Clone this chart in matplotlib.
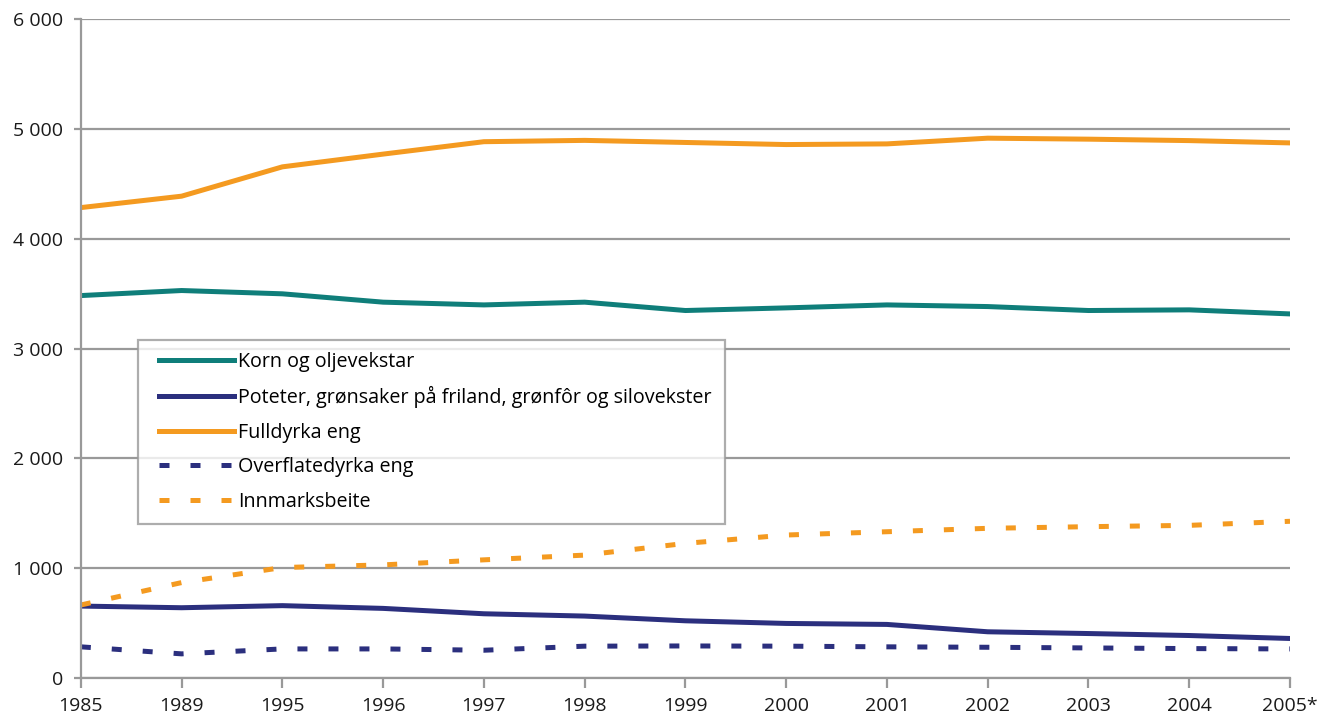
import matplotlib.pyplot as plt
from matplotlib.ticker import FuncFormatter
from matplotlib.legend_handler import HandlerLine2D
from matplotlib.lines import Line2D

# data (1000 dekar)
years = ['1985', '1989', '1995', '1996', '1997', '1998', '1999',
         '2000', '2001', '2002', '2003', '2004', '2005*']
korn = [3482, 3528, 3498, 3422, 3397, 3422, 3346, 3370, 3397, 3382, 3346, 3352, 3315]
poteter = [655, 640, 659, 634, 585, 564, 521, 497, 488, 421, 405, 387, 360]
fulldyrka = [4283, 4387, 4654, 4770, 4883, 4895, 4876, 4857, 4863, 4915, 4906, 4893, 4872]
overflate = [284, 220, 265, 265, 253, 290, 292, 290, 284, 280, 274, 268, 265]
innmark = [665, 869, 1006, 1030, 1076, 1119, 1226, 1302, 1332, 1363, 1378, 1390, 1427]

labels = ['Korn og oljevekstar',
          'Poteter, grønsaker på friland, grønfôr og silovekster',
          'Fulldyrka eng',
          'Overflatedyrka eng',
          'Innmarksbeite']

teal = '#0f7e7a'
navy = '#2b2f7e'
orange = '#f49a20'
grey = '#999999'

plt.rcParams['font.family'] = ['Open Sans', 'DejaVu Sans']

fig = plt.figure(figsize=(13.25, 7.2), dpi=100)
ax = fig.add_axes([0.061, 0.0583, 0.9126, 0.9153])

x = range(len(years))
lw = 3.6
dash = (2.0, 4.2)
ax.plot(x, korn, color=teal, lw=lw, label=labels[0], solid_joinstyle='round')
ax.plot(x, poteter, color=navy, lw=lw, label=labels[1], solid_joinstyle='round')
ax.plot(x, fulldyrka, color=orange, lw=lw, label=labels[2], solid_joinstyle='round')
ax.plot(x, overflate, color=navy, lw=lw, ls=(0, dash), label=labels[3], dash_capstyle='butt')
ax.plot(x, innmark, color=orange, lw=lw, ls=(0, dash), label=labels[4], dash_capstyle='butt')

ax.set_xlim(0, len(years) - 1)
ax.set_ylim(0, 6000)
ax.set_xticks(list(x))
ax.set_xticklabels(years)
ax.set_yticks(range(0, 6001, 1000))
ax.yaxis.set_major_formatter(FuncFormatter(lambda v, p: f'{int(v):,}'.replace(',', ' ')))

ax.grid(axis='y', color=grey, lw=1.6)
ax.set_axisbelow(True)
for s in ['top', 'right']:
    ax.spines[s].set_visible(False)
for s in ['left', 'bottom']:
    ax.spines[s].set_color(grey)
    ax.spines[s].set_linewidth(1.6)
ax.tick_params(axis='x', colors=grey, length=7, width=1.6, pad=7, labelsize=14, labelcolor='#1a1a1a')
ax.tick_params(axis='y', colors=grey, length=5, width=1.6, pad=8, labelsize=14, labelcolor='#1a1a1a')

# shift legend handles a bit to the right of the frame edge
leg = ax.legend(loc='lower left', bbox_to_anchor=(0.047, 0.234, 0.4855, 0.275), mode='expand',
                fontsize=14.2, frameon=True, fancybox=False, handlelength=4.3,
                handletextpad=0.2, labelspacing=0.74, borderaxespad=0, borderpad=0.6,
                handler_map={Line2D: HandlerLine2D(xpad=0.5)})
leg.get_frame().set_edgecolor(grey)
leg.get_frame().set_linewidth(1.6)

fig.savefig('out.png', dpi=100)
